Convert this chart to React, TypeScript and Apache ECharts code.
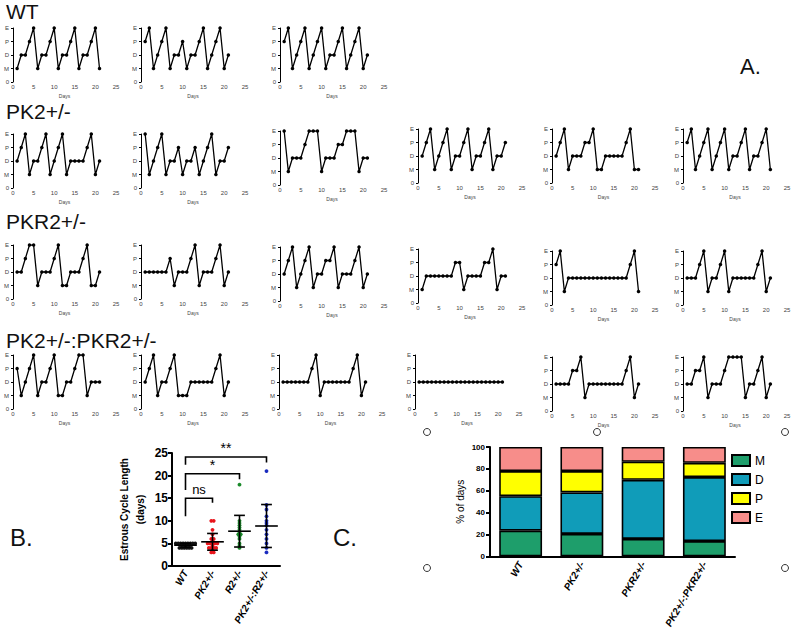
import React, { useEffect, useRef } from 'react';
import * as echarts from 'echarts';

// ---------- Panel A data (estrous stage per day) ----------
const stateLabels = ['0', 'M', 'D', 'P', 'E'];
const days = [1, 2, 3, 4, 5, 6, 7, 8, 9, 10, 11, 12, 13, 14, 15, 16, 17, 18, 19, 20, 21];

const wt1 = ['M','D','D','P','E','M','D','D','P','E','M','D','D','P','E','M','D','D','P','E','M'];
const wt2 = ['P','E','M','D','P','E','M','D','D','P','M','D','D','P','E','M','D','P','E','M','D'];
const wt3 = ['P','E','M','D','P','E','M','D','P','E','M','D','D','P','E','M','D','P','E','M','D'];

const pk1 = ['D','P','E','M','D','D','P','E','M','D','P','E','M','D','D','D','D','P','E','M','D'];
const pk2 = ['E','M','D','P','E','M','D','D','P','M','D','D','P','M','D','P','E','M','D','D','P'];
const pk3 = ['E','M','D','D','D','P','E','E','E','M','D','D','D','P','P','E','E','E','M','D','D'];
const pk4 = ['D','P','E','M','D','P','E','M','D','D','P','E','M','D','D','P','E','M','D','D','P'];
const pk5 = ['D','P','E','M','D','D','D','P','P','E','M','M','D','D','D','D','D','P','E','M','M'];
const pk6 = ['P','E','M','D','P','E','M','D','P','E','M','D','D','P','E','M','D','D','P','E','M'];

const pkr1 = ['D','D','P','E','E','M','D','D','D','P','E','M','M','D','D','D','P','E','M','M','D'];
const pkr2 = ['D','D','D','D','D','D','P','M','D','D','D','P','E','M','D','D','D','P','E','M','D'];
const pkr3 = ['D','P','E','M','D','P','E','M','D','D','P','P','E','M','D','D','D','P','E','M','D'];
const pkr4 = ['M','D','D','D','D','D','D','D','P','P','M','D','D','D','D','P','P','E','M','D','D'];
const pkr5 = ['P','E','M','D','D','D','D','D','D','D','D','D','D','D','D','D','D','D','P','E','M'];
const pkr6 = ['D','D','D','P','E','M','D','D','P','E','M','D','D','D','D','D','D','P','E','M','D'];

const dbl1 = ['P','M','D','P','E','M','D','D','P','E','M','M','D','D','P','E','E','M','D','D','D'];
const dbl2 = ['D','P','E','M','D','D','P','E','M','M','M','D','D','D','D','D','D','P','E','M','D'];
const dbl3 = ['D','D','D','D','D','D','D','P','E','M','D','D','D','D','D','D','D','P','E','M','D'];
const dbl4 = ['D','D','D','D','D','D','D','D','D','D','D','D','D','D','D','D','D','D','D','D','D'];
const dbl5 = ['D','D','D','D','P','P','E','M','D','D','D','D','D','D','D','D','D','P','E','M','D'];
const dbl6 = ['D','D','P','P','E','M','D','D','D','P','E','E','E','E','M','D','D','P','E','M','D'];

const panelData = [
  wt1, wt2, wt3,
  pk1, pk2, pk3, pk4, pk5, pk6,
  pkr1, pkr2, pkr3, pkr4, pkr5, pkr6,
  dbl1, dbl2, dbl3, dbl4, dbl5, dbl6,
];

const rowTitles = ['WT', 'PK2+/-', 'PKR2+/-', 'PK2+/-:PKR2+/-'];

// ---------- Panel B data (cycle length, days) ----------
const bGroups = ['WT', 'PK2+/-', 'R2+/-', 'PK2+/-:R2+/-'];
const bWT = [4, 4, 4, 4, 4, 4, 5, 5, 5, 5, 5, 5, 5, 5, 5];
const bPK2 = [10, 10, 8, 7, 6, 6, 5.5, 5, 5, 5, 5, 5, 4.5, 4, 4, 4, 4, 3.5, 3, 3];
const bPKR2 = [18, 10, 9.5, 9, 8.5, 8, 7.5, 7, 7, 6.5, 6, 5, 4.5, 4];
const bDouble = [21, 13.5, 12.5, 11, 10, 9.5, 9, 8, 7, 6, 5, 4, 3];
const bMean = [4.6, 5.35, 7.7, 8.85];
const bSD = [0.4, 1.85, 3.5, 4.75];
const bColors = ['#111111', '#e8141b', '#1a8a2a', '#1a2bbf'];
// brackets: [fromIndex, toIndex, top value, left leg bottom, right leg bottom, label]
const bBrackets = [
  [0, 1, 15, 11, 14, 'ns'],
  [0, 2, 20.4, 16.8, 19.2, '*'],
  [0, 3, 24.1, 22.4, 22.9, '**'],
];

// ---------- Panel C data (% of days) ----------
const cGroups = ['WT', 'PK2+/-', 'PKR2+/-', 'PK2+/-:PKR2+/-'];
const cM = [23.5, 20.5, 16, 14];
const cD = [31.5, 38, 54, 58.5];
const cP = [23, 19.5, 16.5, 13];
const cE = [22, 22, 13.5, 14.5];

// ---------- layout ----------
const FONT = 'Liberation Sans';
// [x at 0 days, x at 25 days, y at E, y at 0]
const panelBoxes = [
  [13, 116, 28, 82], [141, 245, 28, 82], [280, 384, 28, 82],
  [13, 116, 134, 188], [141, 245, 134, 188], [280, 384, 131, 185], [418, 522, 129, 183], [552, 655, 129, 183], [683, 787, 129, 183],
  [13, 116, 245, 299], [141, 245, 245, 299], [280, 384, 247, 301], [418, 522, 249, 303], [552, 655, 251, 305], [683, 787, 251, 305],
  [13, 116, 355, 409], [141, 245, 355, 409], [279, 382, 355, 409], [415, 519, 355, 409], [552, 655, 357, 411], [683, 787, 357, 411],
];
const titleY = [11, 111, 221, 340];

function buildOption() {
  const grids: any[] = [];
  const xAxes: any[] = [];
  const yAxes: any[] = [];
  const series: any[] = [];

  panelData.forEach((arr, i) => {
    const [x0, x1, yT, yB] = panelBoxes[i];
    grids.push({ left: x0, top: yT, width: x1 - x0, height: yB - yT });
    xAxes.push({
      gridIndex: i, type: 'value', min: 0, max: 25, interval: 5,
      axisLine: { lineStyle: { color: '#000', width: 1 } },
      axisTick: { length: 2, lineStyle: { color: '#000', width: 1 } },
      axisLabel: { fontSize: 6, margin: 2, color: '#444', fontFamily: FONT },
      splitLine: { show: false },
      name: 'Days', nameLocation: 'middle', nameGap: 11,
      nameTextStyle: { fontSize: 5, color: '#444', fontFamily: FONT },
    });
    yAxes.push({
      gridIndex: i, type: 'category', data: stateLabels, boundaryGap: false,
      axisLine: { show: true, lineStyle: { color: '#000', width: 1 } },
      axisTick: { show: true, length: 2, lineStyle: { color: '#000' } },
      axisLabel: { fontSize: 6, margin: 4, color: '#444', fontFamily: FONT },
      splitLine: { show: false },
    });
    series.push({
      type: 'line', xAxisIndex: i, yAxisIndex: i, silent: true,
      data: days.map((d, k) => [d, stateLabels.indexOf(arr[k])]),
      symbol: 'circle', symbolSize: 3.5,
      lineStyle: { color: '#000', width: 1.3 },
      itemStyle: { color: '#000' },
    });
  });

  // ---- Panel B ----
  const bi = panelData.length;
  grids.push({ left: 172, top: 453, width: 108, height: 113 });
  xAxes.push({
    gridIndex: bi, type: 'category', data: bGroups,
    axisLine: { lineStyle: { color: '#000', width: 2 } },
    axisTick: { show: false },
    axisLabel: { rotate: 60, interval: 0, fontSize: 10, fontWeight: 'bold', fontStyle: 'italic', color: '#000', margin: 5, fontFamily: FONT },
  });
  yAxes.push({
    gridIndex: bi, type: 'value', min: 0, max: 25, interval: 5,
    axisLine: { show: true, lineStyle: { color: '#000', width: 2 } },
    axisTick: { show: true, length: 4, lineStyle: { color: '#000', width: 2 } },
    axisLabel: { fontSize: 12, fontWeight: 'bold', color: '#000', margin: 4, fontFamily: FONT },
    splitLine: { show: false },
    name: 'Estrous Cycle Length\n(days)', nameLocation: 'middle', nameGap: 24,
    nameTextStyle: { fontSize: 10, fontWeight: 'bold', color: '#000', lineHeight: 16, fontFamily: FONT },
  });

  const groups = [bWT, bPK2, bPKR2, bDouble];
  const pts: any[] = [];
  groups.forEach((vals, g) => {
    const seen: Record<string, number> = {};
    const counts: Record<string, number> = {};
    vals.forEach((v) => { counts[v] = (counts[v] || 0) + 1; });
    vals.forEach((v) => {
      const k = seen[v] || 0;
      seen[v] = k + 1;
      const n = counts[v];
      const off = (k - (n - 1) / 2) * 0.09;
      pts.push([g, v, off]);
    });
  });
  series.push({
    type: 'custom', coordinateSystem: 'cartesian2d', xAxisIndex: bi, yAxisIndex: bi, silent: true,
    data: pts,
    renderItem: (params: any, api: any) => {
      const g = api.value(0);
      const p = api.coord([g, api.value(1)]);
      const band = api.size([1, 0])[0];
      return {
        type: 'circle',
        shape: { cx: p[0] + api.value(2) * band, cy: p[1], r: 1.9 },
        style: { fill: bColors[g] },
      };
    },
  });
  series.push({
    type: 'custom', coordinateSystem: 'cartesian2d', xAxisIndex: bi, yAxisIndex: bi, silent: true,
    data: bMean.map((m, i) => [i, m, bSD[i]]),
    renderItem: (params: any, api: any) => {
      const i = api.value(0);
      const m = api.value(1);
      const s = api.value(2);
      const c = api.coord([i, m]);
      const t = api.coord([i, m + s]);
      const b = api.coord([i, m - s]);
      const band = api.size([1, 0])[0];
      const mw = band * 0.42;
      const cw = band * 0.2;
      const st = { stroke: '#000', lineWidth: 1.6 };
      return {
        type: 'group',
        children: [
          { type: 'line', shape: { x1: c[0] - mw, y1: c[1], x2: c[0] + mw, y2: c[1] }, style: st },
          { type: 'line', shape: { x1: c[0], y1: t[1], x2: c[0], y2: b[1] }, style: st },
          { type: 'line', shape: { x1: c[0] - cw, y1: t[1], x2: c[0] + cw, y2: t[1] }, style: st },
          { type: 'line', shape: { x1: c[0] - cw, y1: b[1], x2: c[0] + cw, y2: b[1] }, style: st },
        ],
      };
    },
  });
  series.push({
    type: 'custom', coordinateSystem: 'cartesian2d', xAxisIndex: bi, yAxisIndex: bi, silent: true,
    data: bBrackets.map((b) => [b[0], b[1], b[2], b[3], b[4]]),
    renderItem: (params: any, api: any) => {
      const br = bBrackets[params.dataIndex];
      const a = api.coord([api.value(0), api.value(2)]);
      const b = api.coord([api.value(1), api.value(2)]);
      const la = api.coord([api.value(0), api.value(3)]);
      const lb = api.coord([api.value(1), api.value(4)]);
      const st = { stroke: '#000', lineWidth: 1.6, fill: 'none' };
      return {
        type: 'group',
        children: [
          { type: 'polyline', shape: { points: [[la[0], la[1]], [a[0], a[1]], [b[0], b[1]], [lb[0], lb[1]]] }, style: st },
          {
            type: 'text', x: (a[0] + b[0]) / 2, y: a[1] - 2,
            style: {
              text: br[5] as string, align: 'center', verticalAlign: 'bottom',
              fontSize: br[5] === 'ns' ? 13 : 14, fontFamily: FONT, fill: '#000',
            },
          },
        ],
      };
    },
  });

  // ---- Panel C ----
  const ci = bi + 1;
  grids.push({ left: 490, top: 447, width: 245, height: 120 });
  xAxes.push({
    gridIndex: ci, type: 'category', data: cGroups,
    axisLine: { lineStyle: { color: '#000', width: 2 } },
    axisTick: { show: false },
    axisLabel: { rotate: 60, interval: 0, fontSize: 10, fontWeight: 'bold', fontStyle: 'italic', color: '#000', margin: 6, fontFamily: FONT },
  });
  yAxes.push({
    gridIndex: ci, type: 'value', min: 0, max: 100, interval: 20,
    axisLine: { show: true, lineStyle: { color: '#000', width: 2 } },
    axisTick: { show: true, length: 4, lineStyle: { color: '#000', width: 2 } },
    axisLabel: { fontSize: 8, fontWeight: 'bold', color: '#000', margin: 5, fontFamily: FONT },
    splitLine: { show: false },
    name: '% of days', nameLocation: 'middle', nameGap: 25,
    nameTextStyle: { fontSize: 10, color: '#000', fontFamily: FONT },
  });
  const stack = [
    { name: 'M', data: cM, color: '#1e9e6b' },
    { name: 'D', data: cD, color: '#109cb9' },
    { name: 'P', data: cP, color: '#ffff00' },
    { name: 'E', data: cE, color: '#f78d8a' },
  ];
  stack.forEach((s) => {
    series.push({
      type: 'bar', name: s.name, stack: 'c', xAxisIndex: ci, yAxisIndex: ci, silent: true,
      data: s.data, barWidth: '70%',
      itemStyle: { color: s.color, borderColor: '#000', borderWidth: 1.6 },
    });
  });

  const graphic: any[] = [];
  rowTitles.forEach((t, r) => {
    graphic.push({
      type: 'text', x: 6, y: titleY[r],
      style: { text: t, fontSize: 21, fontFamily: FONT, fill: '#111', verticalAlign: 'middle' },
    });
  });
  graphic.push({ type: 'text', x: 740, y: 66, style: { text: 'A.', fontSize: 22, fontFamily: FONT, fill: '#111', verticalAlign: 'middle' } });
  graphic.push({ type: 'text', x: 10, y: 537, style: { text: 'B.', fontSize: 24, fontFamily: FONT, fill: '#111', verticalAlign: 'middle' } });
  graphic.push({ type: 'text', x: 333, y: 537, style: { text: 'C.', fontSize: 24, fontFamily: FONT, fill: '#111', verticalAlign: 'middle' } });
  [[427, 432], [597, 432], [785, 432], [427, 568], [785, 568]].forEach(([cx, cy]) => {
    graphic.push({ type: 'circle', shape: { cx, cy, r: 3.5 }, style: { fill: 'none', stroke: '#333', lineWidth: 1 } });
  });

  return {
    animation: false,
    backgroundColor: '#fff',
    textStyle: { fontFamily: FONT },
    grid: grids,
    xAxis: xAxes,
    yAxis: yAxes,
    series,
    legend: {
      data: ['M', 'D', 'P', 'E'], orient: 'vertical', left: 726, top: 449,
      itemWidth: 18, itemHeight: 11, itemGap: 6, icon: 'rect',
      textStyle: { fontSize: 12, color: '#000', fontFamily: FONT },
    },
    graphic,
  };
}

export default function App() {
  const ref = useRef<HTMLDivElement>(null);
  useEffect(() => {
    if (!ref.current) return;
    const chart = echarts.init(ref.current, null, { renderer: 'svg' });
    chart.setOption(buildOption() as any);
    return () => chart.dispose();
  }, []);
  return <div ref={ref} style={{ position: 'fixed', left: 0, top: 0, width: 799, height: 631, background: '#fff' }} />;
}
